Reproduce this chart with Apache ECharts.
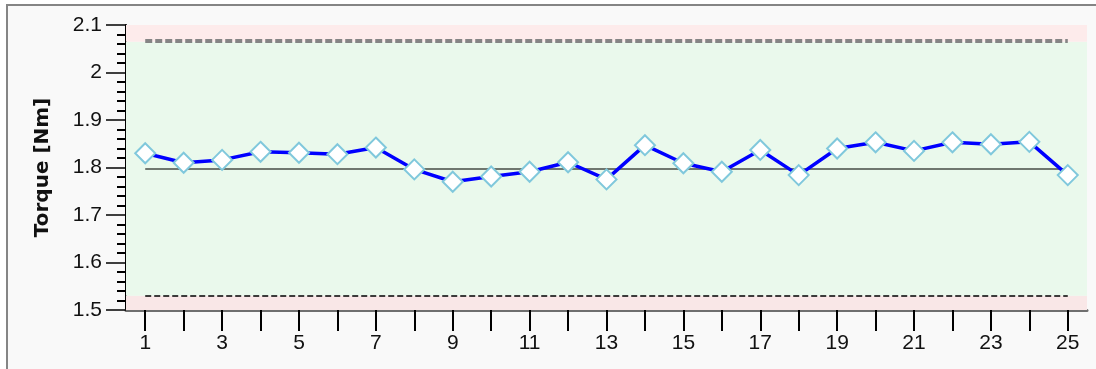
<!DOCTYPE html>
<html>
<head>
<meta charset="utf-8">
<script src="https://cdn.jsdelivr.net/npm/echarts@6/dist/echarts.min.js"></script>
<style>
html,body{margin:0;padding:0;background:#ffffff;}
#chart{width:1096px;height:369px;}
</style>
</head>
<body>
<div id="chart"></div>
<script>
var categories = ['1','2','3','4','5','6','7','8','9','10','11','12','13','14','15','16','17','18','19','20','21','22','23','24','25'];
var torque = [1.830,1.810,1.816,1.833,1.831,1.828,1.842,1.796,1.770,1.781,1.791,1.811,1.775,1.847,1.809,1.791,1.837,1.784,1.840,1.853,1.835,1.853,1.849,1.854,1.784];
var meanValue = 1.798;
var upperLimit = 2.067;
var lowerLimit = 1.530;
var greenBand = [1.530, 2.065];
var yRange = [1.5, 2.1];

var chart = echarts.init(document.getElementById('chart'));
chart.setOption({
  animation: false,
  backgroundColor: '#ffffff',
  graphic: [
    {type:'rect', shape:{x:7,y:5,width:1100,height:380}, style:{fill:'#f9f9f9', stroke:'#858585', lineWidth:2}, z:-10}
  ],
  grid: {left:126, right:9, top:25, bottom:59, containLabel:false},
  xAxis: {
    type: 'category',
    data: categories,
    boundaryGap: true,
    axisLine: {show:true, lineStyle:{color:'#6f6f6f', width:3}},
    axisTick: {show:true, alignWithLabel:true, interval:0, length:21, lineStyle:{color:'#000', width:2}},
    axisLabel: {interval:1, margin:23, fontFamily:'Liberation Sans', fontSize:21, color:'#111'},
    splitLine: {show:false}
  },
  yAxis: {
    type: 'value',
    min: yRange[0], max: yRange[1], interval: 0.1,
    name: 'Torque [Nm]',
    nameLocation: 'middle',
    nameGap: 73,
    nameTextStyle: {fontFamily:'DejaVu Sans', fontWeight:'bold', fontSize:20, color:'#111'},
    axisLine: {show:true, lineStyle:{color:'#000', width:2}},
    axisTick: {show:true, inside:false, length:20, lineStyle:{color:'#000', width:1.5}},
    minorTick: {show:true, splitNumber:5, length:9, lineStyle:{color:'#000', width:2}},
    axisLabel: {margin:24, fontFamily:'Liberation Sans', fontSize:21, color:'#111',
      formatter: function(v){ return String(Math.round(v*10)/10); }},
    splitLine: {show:false}
  },
  series: [
    {
      type: 'line',
      data: torque,
      z: 5,
      symbol: 'diamond',
      symbolSize: 20,
      showAllSymbol: true,
      lineStyle: {color:'#0000ff', width:3.5},
      itemStyle: {color:'#ffffff', borderColor:'#80c8dc', borderWidth:2},
      markArea: {
        silent: true,
        data: [
          [{yAxis: yRange[0], itemStyle:{color:'#f9e7e7'}}, {yAxis: greenBand[0]}],
          [{yAxis: greenBand[0], itemStyle:{color:'#eaf9ec'}}, {yAxis: greenBand[1]}],
          [{yAxis: greenBand[1], itemStyle:{color:'#fdebeb'}}, {yAxis: yRange[1]}]
        ]
      },
      markLine: {
        silent: true,
        symbol: ['none','none'],
        label: {show:false},
        data: [
          [{coord:['1', upperLimit], lineStyle:{color:'#858585', width:4, type:[7,3]}}, {coord:['25', upperLimit]}],
          [{coord:['1', lowerLimit], lineStyle:{color:'#000000', width:1.5, type:[6,3]}}, {coord:['25', lowerLimit]}],
          [{coord:['1', meanValue], lineStyle:{color:'#6f776f', width:2, type:'solid'}}, {coord:['25', meanValue]}]
        ]
      }
    }
  ]
});
</script>
</body>
</html>
